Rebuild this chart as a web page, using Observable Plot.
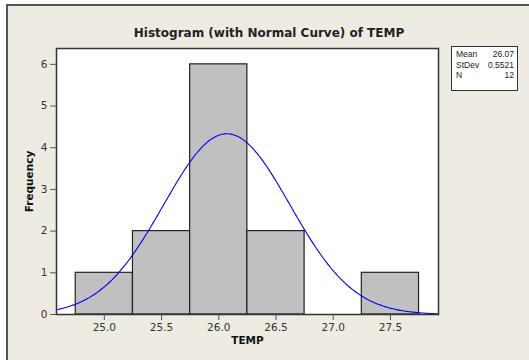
<!DOCTYPE html>
<html><head><meta charset="utf-8">
<script src="https://cdn.jsdelivr.net/npm/d3@7"></script>
<script src="https://cdn.jsdelivr.net/npm/@observablehq/plot@0.6"></script>
<style>
html,body{margin:0;padding:0;background:#fff;}
#wrap{position:relative;width:529px;height:360px;overflow:hidden;background:#fff;font-family:"DejaVu Sans",sans-serif;}
#panel{position:absolute;left:6px;top:4px;width:523px;height:356px;background:#EEEBE2;border-left:2px solid #555;border-top:2px solid #555;box-sizing:border-box;}
#title{position:absolute;left:0;width:538px;top:26px;text-align:center;font-weight:bold;font-size:12px;color:#222;}
#chart{position:absolute;left:0;top:0;}
#stats{position:absolute;left:451px;top:46px;width:67px;height:45px;border:1px solid #333;background:#fff;box-sizing:border-box;font-size:8.5px;color:#222;padding:2px 3px 0 4px;line-height:10.5px;font-family:"Liberation Sans",sans-serif;}
#stats div{display:flex;justify-content:space-between;}
</style></head>
<body>
<div id="wrap">
  <div id="panel"></div>
  <div id="title">Histogram (with Normal Curve) of TEMP</div>
  <div id="chart"></div>
  <div id="stats"></div>
</div>
<script>
// Histogram bins (lower edge, upper edge) and counts
const binLo = [24.75, 25.25, 25.75, 26.25, 26.75, 27.25];
const binHi = [25.25, 25.75, 26.25, 26.75, 27.25, 27.75];
const counts = [1, 2, 6, 2, 0, 1];
// Summary statistics shown in the legend box
const statLabels = ["Mean", "StDev", "N"];
const statValues = ["26.07", "0.5521", "12"];
const mean = 26.07, stdev = 0.5521, n = 12, binWidth = 0.5;
const xTicks = [25.0, 25.5, 26.0, 26.5, 27.0, 27.5];
const yTicks = [0, 1, 2, 3, 4, 5, 6];
const xDomain = [24.582, 27.92];
const yDomain = [0, 6.38];

const bars = binLo.map((lo, i) => ({x1: lo, x2: binHi[i], y: counts[i]}));
// Fitted normal curve, scaled to frequency: N * binWidth * pdf(x)
const curve = d3.range(0, 301).map(i => {
  const x = xDomain[0] + (xDomain[1] - xDomain[0]) * i / 300;
  const z = (x - mean) / stdev;
  return {x, y: n * binWidth * Math.exp(-0.5 * z * z) / (stdev * Math.sqrt(2 * Math.PI))};
});

const chart = Plot.plot({
  width: 529, height: 360,
  marginLeft: 56, marginRight: 91, marginTop: 48, marginBottom: 46,
  style: {background: "transparent", fontFamily: "DejaVu Sans, sans-serif", fontSize: "10.5px", color: "#333", overflow: "visible"},
  x: {domain: xDomain, label: null},
  y: {domain: yDomain, label: null},
  marks: [
    Plot.frame({fill: "white"}),
    Plot.rectY(bars, {x1: "x1", x2: "x2", y: "y", fill: "#C0C0C0", stroke: "#222", strokeWidth: 1.2}),
    Plot.line(curve, {x: "x", y: "y", stroke: "#0000FF", strokeWidth: 1.1, clip: true}),
    Plot.frame({stroke: "#333", strokeWidth: 1.5}),
    Plot.axisX({ticks: xTicks, tickFormat: d => d.toFixed(1), tickSize: 6, tickPadding: 3, label: null, stroke: "#555"}),
    Plot.axisY({ticks: yTicks, tickFormat: d => String(d), tickSize: 6, tickPadding: 3, label: null, stroke: "#555"}),
    Plot.text(["TEMP"], {frameAnchor: "bottom", dy: 29, fontWeight: "bold", fontSize: 10.5, fill: "#111"}),
    Plot.text(["Frequency"], {frameAnchor: "left", textAnchor: "middle", dx: -27, rotate: -90, fontWeight: "bold", fontSize: 10.5, fill: "#111"})
  ]
});
document.getElementById("chart").appendChild(chart);

const st = document.getElementById("stats");
statLabels.forEach((l, i) => {
  const d = document.createElement("div");
  d.innerHTML = `<span>${l}</span><span>${statValues[i]}</span>`;
  st.appendChild(d);
});
</script>
</body></html>
